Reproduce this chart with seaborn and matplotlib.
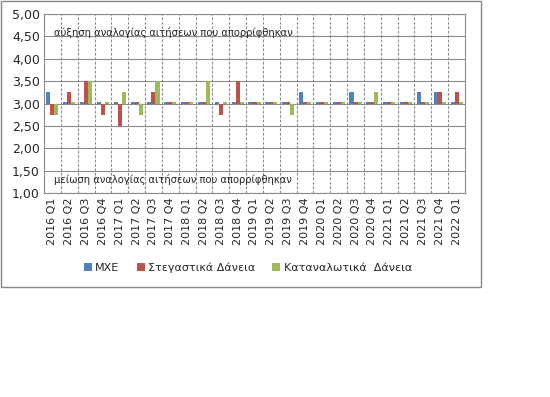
import pandas as pd
import matplotlib.pyplot as plt
import seaborn as sns
from matplotlib.patches import Rectangle

# data (index level, axis crosses at 3.00)
quarters = ["2016 Q1", "2016 Q2", "2016 Q3", "2016 Q4",
            "2017 Q1", "2017 Q2", "2017 Q3", "2017 Q4",
            "2018 Q1", "2018 Q2", "2018 Q3", "2018 Q4",
            "2019 Q1", "2019 Q2", "2019 Q3", "2019 Q4",
            "2020 Q1", "2020 Q2", "2020 Q3", "2020 Q4",
            "2021 Q1", "2021 Q2", "2021 Q3", "2021 Q4",
            "2022 Q1"]
mxe = [3.25, 3.03, 3.03, 3.03, 3.03, 3.03, 3.03, 3.03, 3.03, 3.03, 3.03, 3.03, 3.03,
       3.03, 3.03, 3.25, 3.03, 3.03, 3.25, 3.03, 3.03, 3.03, 3.25, 3.25, 3.03]
housing = [2.75, 3.25, 3.50, 2.75, 2.50, 3.03, 3.25, 3.03, 3.03, 3.03, 2.75, 3.50, 3.03,
           3.03, 3.03, 3.03, 3.03, 3.03, 3.03, 3.03, 3.03, 3.03, 3.03, 3.25, 3.25]
consumer = [2.75, 3.03, 3.50, 3.03, 3.25, 2.75, 3.50, 3.03, 3.03, 3.50, 3.03, 3.03, 3.03,
            3.03, 2.75, 3.03, 3.03, 3.03, 3.03, 3.25, 3.03, 3.03, 3.03, 3.03, 3.03]
series_names = ["ΜΧΕ", "Στεγαστικά Δάνεια", "Καταναλωτικά  Δάνεια"]
colors = ["#4F81BD", "#C0504D", "#9BBB59"]
base = 3.0

df = pd.DataFrame({"quarter": quarters * 3,
                   "series": [n for n in series_names for _ in quarters],
                   "value": mxe + housing + consumer})
df["dev"] = df["value"] - base

sns.set_style("white")
plt.rcParams["font.family"] = ["DejaVu Sans"]

fig = plt.figure(figsize=(5.5, 3.97), dpi=100)
ax = fig.add_axes([44 / 550, 1 - 193 / 397, (465 - 44) / 550, (193 - 14) / 397])

sns.barplot(data=df, x="quarter", y="dev", hue="series", palette=colors,
            width=0.72, ax=ax, legend=True, saturation=1, linewidth=0,
            edgecolor="none", zorder=3)
# bars start from the 3.00 crossing line
for p in ax.patches:
    p.set_y(p.get_y() + base)

ax.set_ylim(1, 5)
ax.set_xlim(-0.5, len(quarters) - 0.5)
ax.set_yticks([1 + 0.5 * i for i in range(9)])
ax.set_yticklabels([f"{1 + 0.5 * i:.2f}".replace(".", ",") for i in range(9)], fontsize=9)
ax.set_xticks(range(len(quarters)))
ax.set_xticklabels(quarters, rotation=90, fontsize=8)
ax.tick_params(length=0, pad=3)
ax.set_xlabel("")
ax.set_ylabel("")

for y in [1 + 0.5 * i for i in range(9)]:
    ax.axhline(y, color="#8c8c8c", lw=0.8, zorder=1)
for x in range(1, len(quarters)):
    ax.axvline(x - 0.5, color="#8c8c8c", lw=0.8, ls=(0, (2.5, 1.5)), zorder=1)
for s in ax.spines.values():
    s.set_color("#8c8c8c")
    s.set_linewidth(0.8)

ax.text(0.1, 4.58, "αύξηση αναλογίας αιτήσεων που απορρίφθηκαν", fontsize=7.2, va="center")
ax.text(0.1, 1.3, "μείωση αναλογίας αιτήσεων που απορρίφθηκαν", fontsize=7.2, va="center")

handles, labels = ax.get_legend_handles_labels()
ax.get_legend().remove()
fig.legend(handles, labels, loc="center", bbox_to_anchor=(248 / 550, 1 - 268 / 397),
           ncol=3, frameon=False, fontsize=8, handlelength=0.7, handleheight=0.7,
           columnspacing=1.55, handletextpad=0.3)

fig.patches.append(Rectangle((1 / 550, 1 - 287 / 397), 480 / 550, 286 / 397,
                             transform=fig.transFigure, fill=False,
                             edgecolor="#888888", lw=1))

fig.savefig("out.png", dpi=100)
